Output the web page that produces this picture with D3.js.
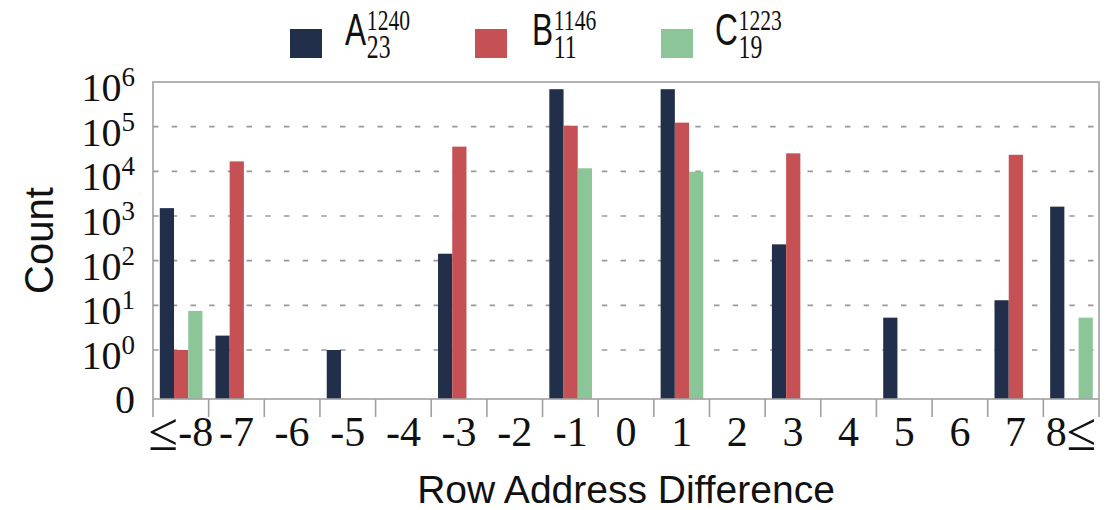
<!DOCTYPE html>
<html>
<head>
<meta charset="utf-8">
<script src="https://cdn.jsdelivr.net/npm/d3@7"></script>
<style>
  body { margin: 0; background: #fff; }
  svg { display: block; }
</style>
</head>
<body>
<div id="chart"></div>
<script>
(function(){

    var width = 1114;
    var height = 510;

    // categories along x
    var categories = ["\u2264-8", "-7", "-6", "-5", "-4", "-3", "-2", "-1", "0",
                      "1", "2", "3", "4", "5", "6", "7", "8\u2264"];

    // series (0 = no bar)
    var seriesA = [1500, 2.1, 0, 1, 0, 143, 0, 690000, 0, 690000, 0, 232, 0, 5.3, 0, 13, 1620];
    var seriesB = [1, 16700, 0, 0, 0, 35700, 0, 105000, 0, 123000, 0, 25300, 0, 0, 0, 23500, 0];
    var seriesC = [7.5, 0, 0, 0, 0, 0, 0, 11700, 0, 9800, 0, 0, 0, 0, 0, 0, 5.3];

    var seriesNames = ["A", "B", "C"];
    var seriesSup = ["1240", "1146", "1223"];
    var seriesSub = ["23", "11", "19"];
    var colors = ["#222f4a", "#c65155", "#8cc598"];

    var yTickExp = [0, 1, 2, 3, 4, 5, 6];

    var plot = {left: 153, right: 1099, top: 82, bottom: 399};
    var zeroVal = 0.08;   // where "0" sits on the log axis
    var serif = "'Liberation Serif', 'Times New Roman', serif";
    var sans = "'Liberation Sans', Arial, sans-serif";

    var svg = d3.select("#chart")
        .append("svg")
        .attr("width", width)
        .attr("height", height);

    var x0 = d3.scaleBand()
        .domain(categories)
        .range([plot.left, plot.right]);

    var x1 = d3.scaleBand()
        .domain(seriesNames)
        .range([6.8, x0.bandwidth() - 6.2]);

    var yLog = d3.scaleLog()
        .domain([zeroVal, 1e6])
        .range([plot.bottom, plot.top]);

    var y = function(v) {
        return v > 0 ? yLog(v) : yLog(zeroVal);
    };

    // dashed grid lines at 10^0 .. 10^5
    svg.append("g")
        .selectAll("line")
        .data([0, 1, 2, 3, 4, 5])
        .enter()
        .append("line")
        .attr("x1", plot.left)
        .attr("x2", plot.right)
        .attr("y1", function(d) { return yLog(Math.pow(10, d)); })
        .attr("y2", function(d) { return yLog(Math.pow(10, d)); })
        .attr("stroke", "#999")
        .attr("stroke-width", 1.6)
        .attr("stroke-dasharray", "5.5 13.2");

    // bars
    var allSeries = [seriesA, seriesB, seriesC];
    var rows = [];
    categories.forEach(function(c, i) {
        seriesNames.forEach(function(s, j) {
            rows.push({cat: c, name: s, value: allSeries[j][i], color: colors[j]});
        });
    });

    svg.append("g")
        .selectAll("rect")
        .data(rows.filter(function(d) { return d.value > 0; }))
        .enter()
        .append("rect")
        .attr("x", function(d) { return x0(d.cat) + x1(d.name); })
        .attr("y", function(d) { return y(d.value); })
        .attr("width", x1.bandwidth())
        .attr("height", function(d) { return y(0) - y(d.value); })
        .attr("fill", function(d) { return d.color; });

    // frame
    svg.append("rect")
        .attr("x", plot.left)
        .attr("y", plot.top)
        .attr("width", plot.right - plot.left)
        .attr("height", plot.bottom - plot.top)
        .attr("fill", "none")
        .attr("stroke", "#a0a0a0")
        .attr("stroke-width", 1.6);

    // x ticks at the band edges
    var edges = categories.map(function(c) { return x0(c); }).concat([plot.right]);
    svg.append("g")
        .selectAll("line")
        .data(edges)
        .enter()
        .append("line")
        .attr("x1", function(d) { return d; })
        .attr("x2", function(d) { return d; })
        .attr("y1", plot.bottom)
        .attr("y2", plot.bottom + 18)
        .attr("stroke", "#a0a0a0")
        .attr("stroke-width", 1.6);

    // x tick labels, the "≤" drawn a bit larger like in the figure
    svg.append("g")
        .selectAll("text")
        .data(categories)
        .enter()
        .append("text")
        .attr("x", function(d) { return x0(d) + x0.bandwidth() / 2; })
        .attr("y", 446)
        .attr("text-anchor", "middle")
        .style("font-family", serif)
        .style("font-size", "42px")
        .attr("fill", "#111")
        .each(function(d) {
            var t = d3.select(this);
            var parts = d.split(/(\u2264)/).filter(function(p) { return p.length; });
            var shifted = false;
            parts.forEach(function(p) {
                if (p === "\u2264") {
                    t.append("tspan").attr("dy", 4).style("font-size", "54px").text(p);
                    shifted = true;
                } else {
                    t.append("tspan").attr("dy", shifted ? -4 : 0).text(p);
                    shifted = false;
                }
            });
        });

    // y tick labels
    var ylab = svg.append("g")
        .style("font-family", serif)
        .attr("fill", "#111");

    ylab.append("text")
        .attr("x", 135)
        .attr("y", y(0) + 14)
        .attr("text-anchor", "end")
        .style("font-size", "40px")
        .text("0");

    yTickExp.forEach(function(e) {
        var t = ylab.append("text")
            .attr("x", 135)
            .attr("y", yLog(Math.pow(10, e)) + 19)
            .attr("text-anchor", "end")
            .style("font-size", "40px");
        t.append("tspan").text("10");
        t.append("tspan")
            .attr("dy", -15)
            .style("font-size", "27px")
            .text(e);
    });

    // axis titles
    svg.append("text")
        .attr("transform", "translate(53," + ((plot.top + plot.bottom) / 2) + ") rotate(-90)")
        .attr("text-anchor", "middle")
        .style("font-family", sans)
        .style("font-size", "40px")
        .attr("fill", "#111")
        .text("Count");

    svg.append("text")
        .attr("x", (plot.left + plot.right) / 2)
        .attr("y", 503)
        .attr("text-anchor", "middle")
        .style("font-family", sans)
        .style("font-size", "39px")
        .attr("fill", "#111")
        .text("Row Address Difference");

    // legend
    var legendSquareX = [290, 475, 661];
    var legendLabelX = [345, 532, 715];
    var sx = 0.72;

    seriesNames.forEach(function(name, i) {
        svg.append("rect")
            .attr("x", legendSquareX[i])
            .attr("y", 29)
            .attr("width", 32)
            .attr("height", 29)
            .attr("fill", colors[i]);

        var g = svg.append("g")
            .attr("transform", "translate(" + legendLabelX[i] + ",0) scale(" + sx + ",1)")
            .attr("fill", "#111");

        var t = g.append("text")
            .attr("x", 0)
            .attr("y", 45);

        var main = t.append("tspan")
            .style("font-family", sans)
            .style("font-size", "44px")
            .text(name);

        var w = main.node().getComputedTextLength() + 1;

        t.append("tspan")
            .attr("x", w)
            .attr("dy", -15)
            .style("font-family", serif)
            .style("font-size", "30px")
            .text(seriesSup[i]);

        t.append("tspan")
            .attr("x", w)
            .attr("dy", 28)
            .style("font-family", serif)
            .style("font-size", "33px")
            .text(seriesSub[i]);
    });

})();
</script>
</body>
</html>
